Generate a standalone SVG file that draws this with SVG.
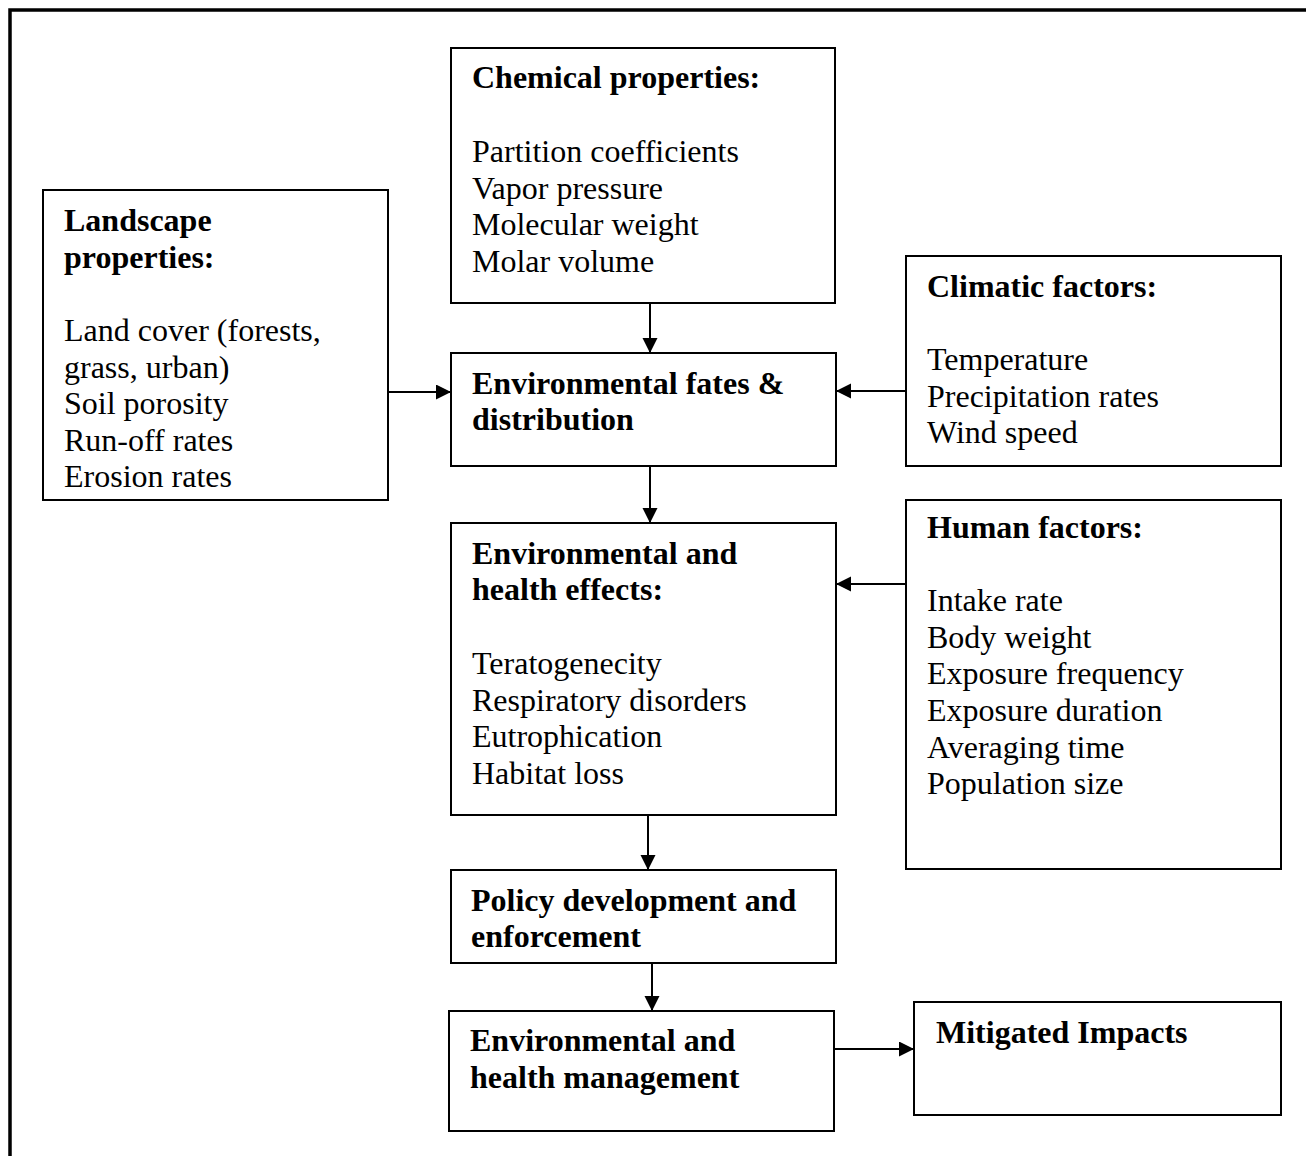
<svg xmlns="http://www.w3.org/2000/svg" width="1306" height="1156" viewBox="0 0 1306 1156">
<style>
.box{fill:#fff;stroke:#000;stroke-width:2}
.t{font-family:"Liberation Serif","Times New Roman",serif;font-size:32px;fill:#000}
.b{font-weight:bold}
.c{stroke:#000;stroke-width:2;fill:none}
</style>
<defs>
<marker id="ah" markerUnits="userSpaceOnUse" markerWidth="16" markerHeight="16" refX="15" refY="7.5" orient="auto">
<path d="M0,0 L15,7.5 L0,15 z" fill="#000"/>
</marker>
</defs>
<rect x="0" y="0" width="1306" height="1156" fill="#fff"/>
<rect x="10" y="10" width="1400" height="1300" fill="none" stroke="#000" stroke-width="3.5"/>

<g id="chemical">
<rect class="box" x="451" y="48" width="384" height="255"/>
<text class="t b" x="472" y="88">Chemical properties:</text>
<text class="t" x="472" y="162">Partition coefficients</text>
<text class="t" x="472" y="198.5">Vapor pressure</text>
<text class="t" x="472" y="235">Molecular weight</text>
<text class="t" x="472" y="271.5">Molar volume</text>
</g>

<g id="landscape">
<rect class="box" x="43" y="190" width="345" height="310"/>
<text class="t b" x="64" y="231">Landscape</text>
<text class="t b" x="64" y="267.5">properties:</text>
<text class="t" x="64" y="341">Land cover (forests,</text>
<text class="t" x="64" y="377.5">grass, urban)</text>
<text class="t" x="64" y="414">Soil porosity</text>
<text class="t" x="64" y="450.5">Run-off rates</text>
<text class="t" x="64" y="487">Erosion rates</text>
</g>

<g id="climatic">
<rect class="box" x="906" y="256" width="375" height="210"/>
<text class="t b" x="927" y="297">Climatic factors:</text>
<text class="t" x="927" y="370">Temperature</text>
<text class="t" x="927" y="406.5">Precipitation rates</text>
<text class="t" x="927" y="443">Wind speed</text>
</g>

<g id="fates">
<rect class="box" x="451" y="353" width="385" height="113"/>
<text class="t b" x="472" y="393.5">Environmental fates &amp;</text>
<text class="t b" x="472" y="430">distribution</text>
</g>

<g id="effects">
<rect class="box" x="451" y="523" width="385" height="292"/>
<text class="t b" x="472" y="563.5">Environmental and</text>
<text class="t b" x="472" y="600">health effects:</text>
<text class="t" x="472" y="674">Teratogenecity</text>
<text class="t" x="472" y="710.5">Respiratory disorders</text>
<text class="t" x="472" y="747">Eutrophication</text>
<text class="t" x="472" y="784">Habitat loss</text>
</g>

<g id="human">
<rect class="box" x="906" y="500" width="375" height="369"/>
<text class="t b" x="927" y="537.5">Human factors:</text>
<text class="t" x="927" y="611">Intake rate</text>
<text class="t" x="927" y="647.5">Body weight</text>
<text class="t" x="927" y="684">Exposure frequency</text>
<text class="t" x="927" y="721">Exposure duration</text>
<text class="t" x="927" y="757.5">Averaging time</text>
<text class="t" x="927" y="794">Population size</text>
</g>

<g id="policy">
<rect class="box" x="451" y="870" width="385" height="93"/>
<text class="t b" x="471" y="911">Policy development and</text>
<text class="t b" x="471" y="947">enforcement</text>
</g>

<g id="management">
<rect class="box" x="449" y="1011" width="385" height="120"/>
<text class="t b" x="470" y="1051">Environmental and</text>
<text class="t b" x="470" y="1088">health management</text>
</g>

<g id="mitigated">
<rect class="box" x="914" y="1002" width="367" height="113"/>
<text class="t b" x="936" y="1043">Mitigated Impacts</text>
</g>

<g id="connectors">
<line class="c" x1="650" y1="303" x2="650" y2="353" marker-end="url(#ah)"/>
<line class="c" x1="388" y1="392" x2="451" y2="392" marker-end="url(#ah)"/>
<line class="c" x1="906" y1="391" x2="836" y2="391" marker-end="url(#ah)"/>
<line class="c" x1="650" y1="466" x2="650" y2="523" marker-end="url(#ah)"/>
<line class="c" x1="906" y1="584" x2="836" y2="584" marker-end="url(#ah)"/>
<line class="c" x1="648" y1="815" x2="648" y2="870" marker-end="url(#ah)"/>
<line class="c" x1="652" y1="963" x2="652" y2="1011" marker-end="url(#ah)"/>
<line class="c" x1="834" y1="1049" x2="914" y2="1049" marker-end="url(#ah)"/>
</g>
</svg>
